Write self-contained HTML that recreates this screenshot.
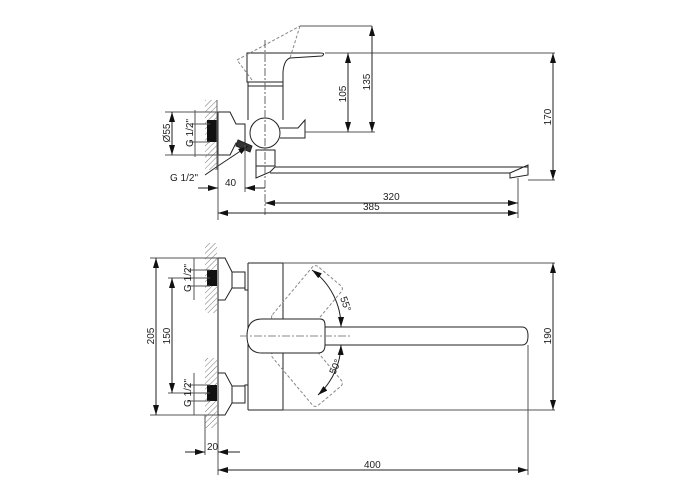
<!DOCTYPE html>
<html><head><meta charset="utf-8"><style>
html,body{margin:0;padding:0;background:#fff}
svg{display:block}
text{font-family:"Liberation Sans",sans-serif;font-size:10px;fill:#222}
</style></head><body>
<svg width="700" height="500" viewBox="0 0 700 500" xmlns="http://www.w3.org/2000/svg">
<defs>
<pattern id="h" width="4" height="4" patternUnits="userSpaceOnUse" patternTransform="rotate(45)">
<line x1="0" y1="0" x2="0" y2="4" stroke="#777" stroke-width="1"/></pattern>
<marker id="a" viewBox="0 0 10 6" refX="10" refY="3" markerWidth="10" markerHeight="6" orient="auto-start-reverse" markerUnits="userSpaceOnUse"><path d="M0,0 L10,3 L0,6z" fill="#111"/></marker>
</defs>
<g fill="none" stroke="#222" stroke-width="1">
<rect x="205" y="100" width="12" height="70" fill="url(#h)" stroke="none"/>
<rect x="207" y="120" width="10" height="22" fill="#111" stroke="none"/>
<line x1="217" y1="100" x2="217" y2="170" stroke="#666"/>
<path d="M218,112 L230,112 L236,124 L245,124 L245,143 L236,143 L230,155 L218,155 Z"/>
<path d="M247,53 L320,53 Q326,53 322,56 L290,58 Q284,60 283,72 L283,82 L247,82 Z"/>
<rect x="248" y="82" width="35" height="4"/>
<line x1="248" y1="86" x2="248" y2="120"/>
<line x1="283" y1="86" x2="283" y2="120"/>
<circle cx="265" cy="133" r="15"/>
<path d="M280,128 L298,128 L305,120 L305,138 L280,138"/>
<rect x="256" y="150" width="19" height="16"/>
<path d="M256,166 L256,178 L270,172 L275,167"/>
<path d="M238,140 L252,146 L250,152 L236,146 Z" fill="#333"/>
<line x1="275" y1="167" x2="528" y2="167"/>
<line x1="270" y1="173" x2="510" y2="173"/>
<path d="M510,173 L528,165 L528,175 L510,178 Z"/>
<path d="M252,80 L237,60 L300,26 M300,26 L290,58" stroke="#888" stroke-dasharray="3,2"/>
<line x1="300" y1="26" x2="372" y2="26" stroke="#555"/>
<line x1="265" y1="40" x2="265" y2="215" stroke="#666" stroke-dasharray="8,2,2,2"/>
<line x1="325" y1="53" x2="555" y2="53" stroke="#555"/>
<line x1="305" y1="132" x2="375" y2="132" stroke="#555"/>
<line x1="528" y1="180" x2="555" y2="180" stroke="#555"/>
<line x1="372" y1="26" x2="372" y2="132" marker-start="url(#a)" marker-end="url(#a)"/>
<line x1="348" y1="53" x2="348" y2="132" marker-start="url(#a)" marker-end="url(#a)"/>
<line x1="553" y1="53" x2="553" y2="180" marker-start="url(#a)" marker-end="url(#a)"/>
<line x1="165" y1="112" x2="218" y2="112" stroke="#555"/>
<line x1="165" y1="155" x2="218" y2="155" stroke="#555"/>
<line x1="172" y1="112" x2="172" y2="155" marker-start="url(#a)" marker-end="url(#a)"/>
<line x1="190" y1="124" x2="210" y2="124" stroke="#555"/>
<line x1="190" y1="142" x2="210" y2="142" stroke="#555"/>
<line x1="195" y1="110" x2="195" y2="157" stroke="#555"/>
<path d="M205,175 L215,168 L248,146" marker-end="url(#a)"/>
<line x1="218" y1="155" x2="218" y2="220" stroke="#555"/>
<line x1="245" y1="145" x2="245" y2="192" stroke="#555"/>
<line x1="518" y1="178" x2="518" y2="218" stroke="#555"/>
<line x1="198" y1="188" x2="218" y2="188" marker-end="url(#a)"/>
<line x1="265" y1="188" x2="245" y2="188" marker-end="url(#a)"/>
<line x1="265" y1="203" x2="518" y2="203" marker-start="url(#a)" marker-end="url(#a)"/>
<line x1="218" y1="213" x2="518" y2="213" marker-start="url(#a)" marker-end="url(#a)"/>

<rect x="205" y="243" width="12" height="70" fill="url(#h)" stroke="none"/>
<rect x="205" y="358" width="12" height="70" fill="url(#h)" stroke="none"/>
<rect x="207" y="270" width="10" height="16" fill="#111" stroke="none"/>
<rect x="207" y="385" width="10" height="16" fill="#111" stroke="none"/>
<path d="M218,258 L225,258 L232,272 L245,272 L245,290 L248,290 L248,385 L245,385 L245,403 L232,403 L225,415 L218,415 Z"/>
<path d="M218,258 L218,300 L225,300 L232,288 L245,288"/>
<path d="M218,373 L225,373 L232,386 L245,386"/>
<line x1="218" y1="373" x2="218" y2="415"/>
<line x1="232" y1="272" x2="232" y2="288"/>
<line x1="232" y1="386" x2="232" y2="403"/>
<line x1="248" y1="263" x2="248" y2="290"/>
<line x1="248" y1="385" x2="248" y2="410"/>
<line x1="248" y1="263" x2="283" y2="263"/>
<line x1="248" y1="410" x2="283" y2="410"/>
<line x1="283" y1="263" x2="283" y2="410"/>
<g stroke="#888" stroke-dasharray="3,2">
<rect x="272" y="284" width="70" height="38" rx="4" transform="rotate(-50 307 303)"/>
<rect x="272" y="350" width="70" height="38" rx="4" transform="rotate(50 307 369)"/>
</g>
<path d="M262,319 L320,319 Q325,319 325,325 L325,345 Q325,353 318,353 L262,353 Q247,353 247,336 Q247,319 262,319 Z" fill="#fff"/>
<path d="M325,327 L522,327 Q528,327 528,336 Q528,345 522,345 L325,345"/>
<line x1="240" y1="336" x2="350" y2="336" stroke="#888" stroke-dasharray="8,2,2,2"/>
<path d="M312,270 A70,70 0 0 1 341,327" marker-start="url(#a)" marker-end="url(#a)"/>
<path d="M341,345 A70,70 0 0 1 318,395" marker-start="url(#a)" marker-end="url(#a)"/>
<line x1="283" y1="263" x2="555" y2="263" stroke="#555"/>
<line x1="283" y1="410" x2="555" y2="410" stroke="#555"/>
<line x1="553" y1="263" x2="553" y2="410" marker-start="url(#a)" marker-end="url(#a)"/>
<line x1="150" y1="258" x2="218" y2="258" stroke="#555"/>
<line x1="150" y1="415" x2="218" y2="415" stroke="#555"/>
<line x1="156" y1="258" x2="156" y2="415" marker-start="url(#a)" marker-end="url(#a)"/>
<line x1="168" y1="278" x2="210" y2="278" stroke="#555"/>
<line x1="168" y1="393" x2="210" y2="393" stroke="#555"/>
<line x1="172" y1="278" x2="172" y2="393" marker-start="url(#a)" marker-end="url(#a)"/>
<line x1="188" y1="270" x2="210" y2="270" stroke="#555"/>
<line x1="188" y1="286" x2="210" y2="286" stroke="#555"/>
<line x1="188" y1="385" x2="210" y2="385" stroke="#555"/>
<line x1="188" y1="401" x2="210" y2="401" stroke="#555"/>
<line x1="194" y1="258" x2="194" y2="300" stroke="#555"/>
<line x1="194" y1="373" x2="194" y2="415" stroke="#555"/>
<line x1="205" y1="415" x2="205" y2="455" stroke="#555"/>
<line x1="218" y1="415" x2="218" y2="475" stroke="#555"/>
<line x1="528" y1="345" x2="528" y2="475" stroke="#555"/>
<line x1="185" y1="452" x2="205" y2="452" marker-end="url(#a)"/>
<line x1="240" y1="452" x2="218" y2="452" marker-end="url(#a)"/>
<line x1="218" y1="470" x2="528" y2="470" marker-start="url(#a)" marker-end="url(#a)"/>
</g>
<text x="370" y="82" transform="rotate(-90 370 82)" text-anchor="middle">135</text>
<text x="346" y="94" transform="rotate(-90 346 94)" text-anchor="middle">105</text>
<text x="551" y="117" transform="rotate(-90 551 117)" text-anchor="middle">170</text>
<text x="170" y="133" transform="rotate(-90 170 133)" text-anchor="middle">Ø55</text>
<text x="193" y="133" transform="rotate(-90 193 133)" text-anchor="middle">G 1/2"</text>
<text x="170" y="181">G 1/2"</text>
<text x="225" y="186">40</text>
<text x="383" y="200">320</text>
<text x="363" y="210">385</text>
<text x="154" y="336" transform="rotate(-90 154 336)" text-anchor="middle">205</text>
<text x="170" y="336" transform="rotate(-90 170 336)" text-anchor="middle">150</text>
<text x="191" y="278" transform="rotate(-90 191 278)" text-anchor="middle">G 1/2"</text>
<text x="191" y="393" transform="rotate(-90 191 393)" text-anchor="middle">G 1/2"</text>
<text x="551" y="336" transform="rotate(-90 551 336)" text-anchor="middle">190</text>
<text x="340" y="298" transform="rotate(70 340 298)">55°</text>
<text x="335" y="375" transform="rotate(-65 335 375)">50°</text>
<text x="207" y="450">20</text>
<text x="364" y="468">400</text>
</svg>
</body></html>
